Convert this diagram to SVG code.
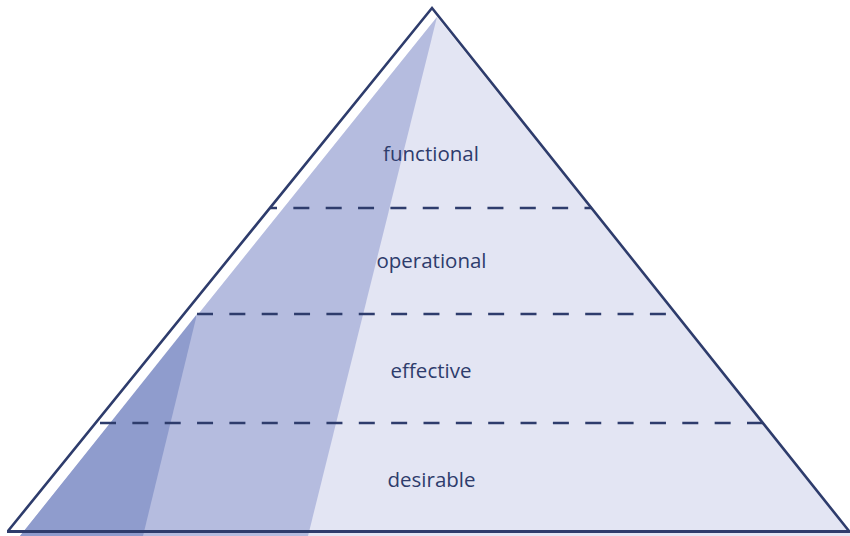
<svg xmlns="http://www.w3.org/2000/svg" width="850" height="536" viewBox="0 0 850 536">
  <style>
    .label { font-family: "Open Sans", "Liberation Sans", sans-serif; font-size: 20.5px; fill: #2e3c6c; text-anchor: middle; }
    .tier { stroke: #2e3c6c; stroke-width: 2.6; stroke-dasharray: 16 16.35; fill: none; }
  </style>
  <rect width="850" height="536" fill="#ffffff"/>

  <!-- shaded body of the pyramid -->
  <g id="shading">
    <polygon points="437,17 852,536 20,536" fill="#e3e5f3"/>
    <polygon points="437,17 308,536 20,536" fill="#b5bcdf"/>
    <polygon points="197,314 143,536 20,536" fill="#8f9ccd"/>
  </g>

  <!-- tier separators -->
  <g id="connectors">
    <line class="tier" x1="270" y1="208" x2="592" y2="208" stroke-dashoffset="9"/>
    <line class="tier" x1="197" y1="314" x2="666" y2="314"/>
    <line class="tier" x1="100" y1="423" x2="763" y2="423"/>
  </g>

  <!-- outline -->
  <g id="outline" fill="none" stroke="#2e3c6c" stroke-width="2.6" stroke-linejoin="miter">
    <polyline points="8,531 432,8 849,531"/>
    <line x1="7" y1="531.5" x2="850" y2="531.5" stroke-width="3"/>
  </g>

  <g id="functional"><text class="label" x="431" y="161">functional</text></g>
  <g id="operational"><text class="label" x="431.5" y="268">operational</text></g>
  <g id="effective"><text class="label" x="431" y="378">effective</text></g>
  <g id="desirable"><text class="label" x="431.5" y="487">desirable</text></g>
</svg>
